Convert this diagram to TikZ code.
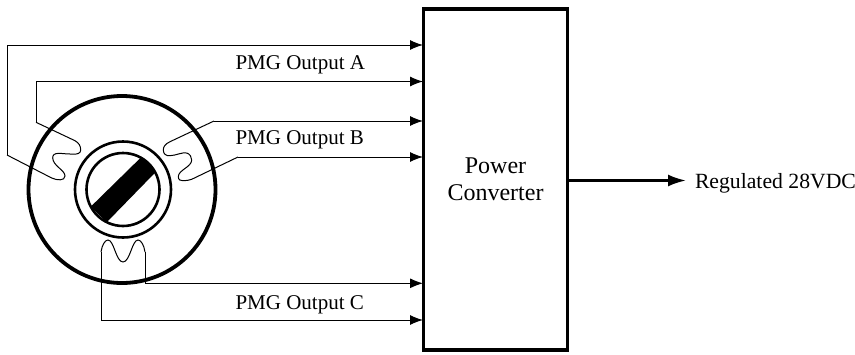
\documentclass[tikz,border=0pt]{standalone}
\usepackage{fontspec}
\setmainfont{Liberation Serif}
\usetikzlibrary{arrows.meta}
\tikzset{
  wire/.style={line width=1pt,line join=miter},
  feed/.style={wire,-{Latex[length=13pt,width=10pt]}},
  lbl/.style={font=\fontsize{21pt}{24pt}\selectfont,inner sep=0pt,outer sep=0pt},
  heavy/.style={line width=3.8pt},
  ring/.style={draw,line width=2.6pt}
}
\begin{document}
\begin{tikzpicture}[x=1pt,y=-1pt]
\useasboundingbox (0,0) rectangle (855,354);
\fill[white] (0,0) rectangle (855,354);
% housing
\node[draw,heavy,circle,minimum size=187pt,inner sep=0pt,outer sep=0pt] (stator) at (122,189.5) {};
\node[ring,circle,minimum size=96pt,inner sep=0pt,outer sep=0pt] (bore) at (123,189.5) {};
\node[ring,circle,minimum size=73pt,inner sep=0pt,outer sep=0pt] (rotor) at (123,189.5) {};
\fill (141.7,156.7) -- (156,171.7) -- (106.7,222.3) -- (90.7,206.7) -- cycle;
% converter
\node[draw,line width=3.6pt,minimum width=144pt,minimum height=341pt,inner sep=0pt,outer sep=0pt,anchor=north west,align=center,font=\fontsize{24pt}{27pt}\selectfont] (conv) at (423.5,9) {Power\\Converter};
% free ends
\coordinate (a1) at (423,45);
\coordinate (a2) at (423,81.5);
\coordinate (b1) at (423,121);
\coordinate (b2) at (423,157);
\coordinate (c1) at (423,283.3);
\coordinate (c2) at (423,320);
\coordinate (out) at (686,180.5);
% phase A
\draw[feed] (7,155) -- (7,45) -- (a1);
\draw[wire] (7,155) -- (51.7,178) .. controls (57,180.5) and (65,181) .. (65,176) .. controls (65,170) and (53,166) .. (52.7,158) .. controls (52.5,151) and (62,154) .. (70,154) .. controls (78,155) and (80.7,153) .. (80.7,150) .. controls (80.7,146) and (79,143) .. (75,140.7) -- (36,122.3);
\draw[feed] (36,122.3) -- (36,81.5) -- (a2);
% phase B
\draw[feed] (214,121) -- (b1);
\draw[wire] (214,121) -- (170,141.7) .. controls (165,144) and (163.3,147) .. (163.3,150) .. controls (163.3,154) and (166,156) .. (170,155.7) .. controls (176,155.5) and (182,152) .. (186.7,153) .. controls (190,154) and (191.7,157) .. (191.7,160) .. controls (191.7,167) and (178.3,170) .. (178.3,176.7) .. controls (178.3,180) and (181,181) .. (183,180.7) .. controls (186,180.5) and (189,180.5) .. (191.7,179.3) -- (238,157);
\draw[feed] (238,157) -- (b2);
% phase C
\draw[wire] (101,252) .. controls (102,245) and (105,240) .. (108,240) .. controls (114,240) and (116,262) .. (123,262) .. controls (130,262) and (132,240) .. (138,240) .. controls (141,240) and (144,245) .. (145,252);
\draw[feed] (145,252) -- (145,283.3) -- (c1);
\draw[feed] (101,252) -- (101,320) -- (c2);
% output
\draw[line width=2.4pt,-{Latex[length=18pt,width=12pt]}] (conv.east|-out) -- (out);
% labels
\node[lbl,anchor=base west] (la) at (235.5,69) {PMG Output A};
\node[lbl,anchor=base west] (lb) at (235.5,144) {PMG Output B};
\node[lbl,anchor=base west] (lc) at (235.5,309) {PMG Output C};
\node[lbl,anchor=base west,font=\fontsize{21.7pt}{24pt}\selectfont] (lo) at (695,188) {Regulated 28VDC};
\end{tikzpicture}
\end{document}
